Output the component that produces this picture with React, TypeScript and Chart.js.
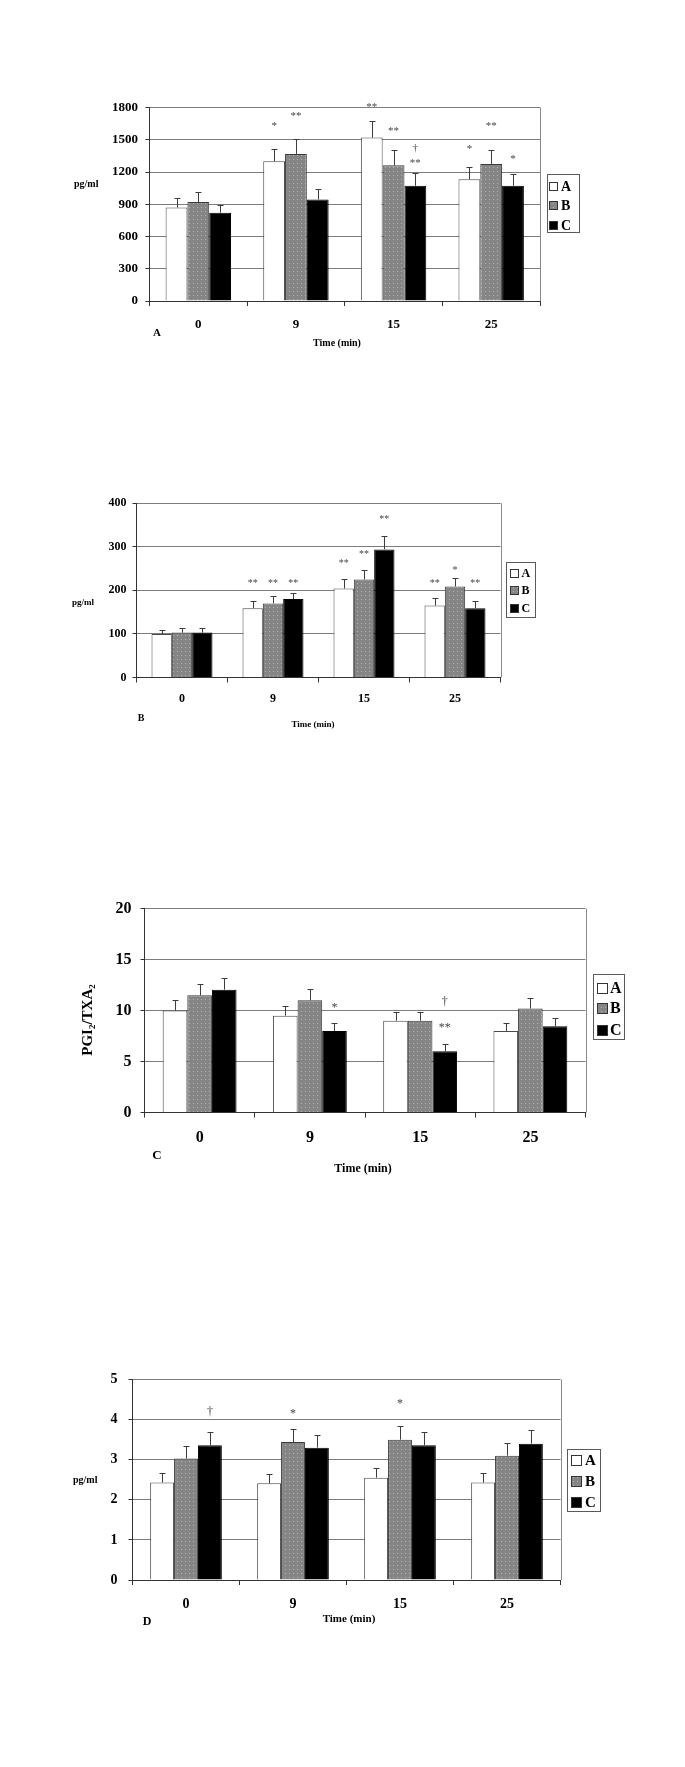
import React, { useEffect, useRef } from 'react';
import { Chart, registerables } from 'chart.js';

Chart.register(...registerables);

// ---------- shared ----------
const categories = ['0', '9', '15', '25'];
const seriesLabels = ['A', 'B', 'C'];

// ---------- Panel A (pg/ml) ----------
const panelA_A = [870, 1299, 1520, 1132];
const panelA_B = [920, 1368, 1262, 1275];
const panelA_C = [821, 945, 1072, 1072];
const panelA_semA = [84, 119, 156, 115];
const panelA_semB = [93, 143, 143, 130];
const panelA_semC = [68, 93, 116, 106];
// [category index, series index, mark, y value]
const panelA_notes: [number, number, string, number][] = [
  [1, 0, '*', 1650], [1, 1, '**', 1740],
  [2, 0, '**', 1825], [2, 1, '**', 1600], [2, 2, '\u2020', 1420], [2, 2, '**', 1308],
  [3, 0, '*', 1431], [3, 1, '**', 1645], [3, 2, '*', 1339],
];

// ---------- Panel B (pg/ml) ----------
const panelB_A = [100, 159, 204, 165];
const panelB_B = [103, 170, 225, 209];
const panelB_C = [103, 180, 294, 159];
const panelB_semA = [9, 16, 21, 17];
const panelB_semB = [11, 16, 22, 20];
const panelB_semC = [11, 15, 30, 16];
const panelB_notes: [number, number, string, number][] = [
  [1, 0, '**', 221], [1, 1, '**', 221], [1, 2, '**', 221],
  [2, 0, '**', 268], [2, 1, '**', 287], [2, 2, '**', 368],
  [3, 0, '**', 221], [3, 1, '*', 250], [3, 2, '**', 221],
];

// ---------- Panel C (PGI2/TXA2) ----------
const panelC_A = [10.0, 9.5, 9.0, 8.0];
const panelC_B = [11.5, 11.0, 9.0, 10.2];
const panelC_C = [12.05, 8.0, 6.0, 8.45];
const panelC_semA = [1.0, 0.95, 0.9, 0.8];
const panelC_semB = [1.15, 1.07, 0.9, 1.05];
const panelC_semC = [1.15, 0.78, 0.67, 0.82];
const panelC_notes: [number, number, string, number][] = [
  [1, 2, '*', 10.52], [2, 2, '\u2020', 10.84], [2, 2, '**', 8.53],
];

// ---------- Panel D (pg/ml) ----------
const panelD_A = [2.43, 2.41, 2.55, 2.43];
const panelD_B = [3.03, 3.44, 3.5, 3.1];
const panelD_C = [3.36, 3.3, 3.36, 3.4];
const panelD_semA = [0.23, 0.23, 0.25, 0.23];
const panelD_semB = [0.31, 0.33, 0.35, 0.31];
const panelD_semC = [0.34, 0.32, 0.34, 0.34];
const panelD_notes: [number, number, string, number][] = [
  [0, 2, '\u2020', 4.19], [1, 1, '*', 4.21], [2, 1, '*', 4.47],
];

const FAM = "'Liberation Serif', 'Times New Roman', serif";
const PAGE_W = 685;

interface PanelCfg {
  top: number;
  height: number;
  area: { l: number; r: number; t: number; b: number };
  yMax: number;
  yStep: number;
  yTickSize: number;
  yTickRight: number;
  xTickSize: number;
  xLabelY: number;
  data: number[][];
  sem: number[][];
  notes: [number, number, string, number][];
  noteSize: number;
  yTitle: { x: number; y: number; size: number; rotated?: boolean };
  letter: { text: string; x: number; y: number; size: number };
  xTitle: { x: number; y: number; size: number };
  legend: { l: number; r: number; t: number; b: number; rows: number[]; swX: number; sw: number; textX: number; size: number };
}

const panels: PanelCfg[] = [
  {
    top: 90, height: 270,
    area: { l: 149.5, r: 540, t: 107.5, b: 301 },
    yMax: 1800, yStep: 300, yTickSize: 13, yTickRight: 138,
    xTickSize: 13, xLabelY: 325,
    data: [panelA_A, panelA_B, panelA_C],
    sem: [panelA_semA, panelA_semB, panelA_semC],
    notes: panelA_notes, noteSize: 11,
    yTitle: { x: 74, y: 184, size: 10 },
    letter: { text: 'A', x: 157, y: 333, size: 11 },
    xTitle: { x: 337, y: 343, size: 10 },
    legend: { l: 546.5, r: 578, t: 174, b: 232, rows: [186, 205, 225], swX: 549, sw: 9, textX: 561, size: 14 },
  },
  {
    top: 490, height: 250,
    area: { l: 136.5, r: 500.5, t: 500.5, b: 677.5 },
    yMax: 400, yStep: 100, yTickSize: 12, yTickRight: 126.5,
    xTickSize: 12, xLabelY: 699,
    data: [panelB_A, panelB_B, panelB_C],
    sem: [panelB_semA, panelB_semB, panelB_semC],
    notes: panelB_notes, noteSize: 10,
    yTitle: { x: 72, y: 603, size: 9 },
    letter: { text: 'B', x: 141, y: 718, size: 10 },
    xTitle: { x: 313, y: 725, size: 9 },
    legend: { l: 506, r: 535, t: 561.5, b: 616.5, rows: [573, 590, 608], swX: 510, sw: 9, textX: 521.5, size: 12 },
  },
  {
    top: 890, height: 300,
    area: { l: 144.5, r: 585.5, t: 901.5, b: 1112.5 },
    yMax: 20, yStep: 5, yTickSize: 16, yTickRight: 131.5,
    xTickSize: 16, xLabelY: 1138,
    data: [panelC_A, panelC_B, panelC_C],
    sem: [panelC_semA, panelC_semB, panelC_semC],
    notes: panelC_notes, noteSize: 12,
    yTitle: { x: 88, y: 1020, size: 15, rotated: true },
    letter: { text: 'C', x: 157, y: 1156, size: 13 },
    xTitle: { x: 363, y: 1169, size: 12 },
    legend: { l: 592.5, r: 623, t: 974, b: 1039, rows: [988, 1008, 1030], swX: 597, sw: 11, textX: 610, size: 16 },
  },
  {
    top: 1360, height: 280,
    area: { l: 132.5, r: 560.5, t: 1379.5, b: 1580 },
    yMax: 5, yStep: 1, yTickSize: 14, yTickRight: 117.5,
    xTickSize: 14, xLabelY: 1604,
    data: [panelD_A, panelD_B, panelD_C],
    sem: [panelD_semA, panelD_semB, panelD_semC],
    notes: panelD_notes, noteSize: 12,
    yTitle: { x: 73, y: 1480, size: 10 },
    letter: { text: 'D', x: 147, y: 1622, size: 12 },
    xTitle: { x: 349, y: 1619, size: 11 },
    legend: { l: 567, r: 600, t: 1448.5, b: 1510.5, rows: [1460, 1481.5, 1502.5], swX: 571, sw: 11, textX: 585, size: 15 },
  },
];

function makeDotPattern(ctx: CanvasRenderingContext2D): CanvasPattern | string {
  const c = document.createElement('canvas');
  c.width = 4;
  c.height = 4;
  const g = c.getContext('2d');
  if (!g) return '#868686';
  g.fillStyle = '#858585';
  g.fillRect(0, 0, 4, 4);
  g.fillStyle = '#b4b4b4';
  g.fillRect(1, 1, 1, 1);
  return ctx.createPattern(c, 'repeat') || '#868686';
}

const Panel: React.FC<{ cfg: PanelCfg }> = ({ cfg }) => {
  const ref = useRef<HTMLCanvasElement>(null);
  useEffect(() => {
    const canvas = ref.current;
    if (!canvas) return;
    const ctx0 = canvas.getContext('2d');
    if (!ctx0) return;
    const pattern = makeDotPattern(ctx0);
    const fills: any[] = ['#ffffff', pattern, '#000000'];
    const borders = ['#4a4a4a', '#3a3a3a', '#000000'];
    const top = cfg.top;
    const tickLenY = 4;
    const tickLenX = 5;

    const overlay = {
      id: 'overlay',
      afterDatasetsDraw(chart: any) {
        const ctx: CanvasRenderingContext2D = chart.ctx;
        const ys = chart.scales.y;
        ctx.save();
        ctx.strokeStyle = '#3c3c3c';
        ctx.lineWidth = 1;
        cfg.data.forEach((series, ds) => {
          const meta = chart.getDatasetMeta(ds);
          series.forEach((v, i) => {
            const el = meta.data[i];
            const x = Math.round(el.x) + 0.5;
            const y0 = ys.getPixelForValue(v);
            const y1 = Math.round(ys.getPixelForValue(v + cfg.sem[ds][i])) + 0.5;
            ctx.beginPath();
            ctx.moveTo(x, y0);
            ctx.lineTo(x, y1);
            ctx.moveTo(x - 3, y1);
            ctx.lineTo(x + 3, y1);
            ctx.stroke();
          });
        });
        ctx.restore();
      },
      afterDraw(chart: any) {
        const ctx: CanvasRenderingContext2D = chart.ctx;
        const ys = chart.scales.y;
        const area = chart.chartArea;
        ctx.save();
        // right frame line
        ctx.strokeStyle = '#8a8a8a';
        ctx.lineWidth = 1;
        ctx.beginPath();
        ctx.moveTo(Math.round(area.right) + 0.5, area.top);
        ctx.lineTo(Math.round(area.right) + 0.5, area.bottom);
        ctx.stroke();

        // significance marks
        ctx.fillStyle = '#444';
        ctx.textAlign = 'center';
        ctx.textBaseline = 'alphabetic';
        ctx.font = `${cfg.noteSize}px ${FAM}`;
        cfg.notes.forEach(([cat, ds, txt, val]) => {
          const el = chart.getDatasetMeta(ds).data[cat];
          const py = ys.getPixelForValue(val);
          const off = txt.indexOf('*') >= 0 ? 0.48 : 0.27;
          ctx.fillText(txt, el.x, py + off * cfg.noteSize);
        });

        // legend
        const lg = cfg.legend;
        ctx.strokeStyle = '#5a5a5a';
        ctx.lineWidth = 1;
        ctx.strokeRect(Math.round(lg.l) + 0.5, Math.round(lg.t - top) + 0.5, Math.round(lg.r - lg.l), Math.round(lg.b - lg.t));
        lg.rows.forEach((ry, i) => {
          const y = Math.round(ry - top - lg.sw / 2);
          ctx.fillStyle = fills[i];
          ctx.fillRect(lg.swX, y, lg.sw, lg.sw);
          ctx.strokeStyle = '#333';
          ctx.strokeRect(lg.swX + 0.5, y + 0.5, lg.sw - 1, lg.sw - 1);
          ctx.fillStyle = '#000';
          ctx.font = `bold ${lg.size}px ${FAM}`;
          ctx.textAlign = 'left';
          ctx.textBaseline = 'middle';
          ctx.fillText(seriesLabels[i], lg.textX, ry - top + 1);
        });

        // y title
        ctx.fillStyle = '#000';
        const yt = cfg.yTitle;
        if (yt.rotated) {
          const big = `bold ${yt.size}px ${FAM}`;
          const small = `bold ${Math.round(yt.size * 0.62)}px ${FAM}`;
          const parts: [string, boolean][] = [['PGI', false], ['2', true], ['/TXA', false], ['2', true]];
          let total = 0;
          parts.forEach(([t, sub]) => {
            ctx.font = sub ? small : big;
            total += ctx.measureText(t).width;
          });
          ctx.save();
          ctx.translate(yt.x, yt.y - top);
          ctx.rotate(-Math.PI / 2);
          ctx.textAlign = 'left';
          ctx.textBaseline = 'middle';
          let cx = -total / 2;
          parts.forEach(([t, sub]) => {
            ctx.font = sub ? small : big;
            ctx.fillText(t, cx, sub ? yt.size * 0.3 : 0);
            cx += ctx.measureText(t).width;
          });
          ctx.restore();
        } else {
          ctx.font = `bold ${yt.size}px ${FAM}`;
          ctx.textAlign = 'left';
          ctx.textBaseline = 'middle';
          ctx.fillText('pg/ml', yt.x, yt.y - top);
        }

        // panel letter
        const lt = cfg.letter;
        ctx.font = `bold ${lt.size}px ${FAM}`;
        ctx.textAlign = 'center';
        ctx.textBaseline = 'middle';
        ctx.fillText(lt.text, lt.x, lt.y - top);

        // x title
        const xt = cfg.xTitle;
        ctx.font = `bold ${xt.size}px ${FAM}`;
        ctx.fillText('Time (min)', xt.x, xt.y - top);
        ctx.restore();
      },
    };

    const xPad = cfg.xLabelY - cfg.area.b - tickLenX - 0.6 * cfg.xTickSize;
    const yPad = cfg.area.l - cfg.yTickRight - tickLenY;

    const chart = new Chart(canvas, {
      type: 'bar',
      data: {
        labels: categories,
        datasets: cfg.data.map((d, i) => ({
          label: seriesLabels[i],
          data: d,
          backgroundColor: fills[i],
          borderColor: borders[i],
          borderWidth: 1,
          barPercentage: 1,
          categoryPercentage: 0.67,
        })),
      },
      options: {
        responsive: false,
        animation: false,
        events: [],
        layout: {
          padding: { left: 0, right: PAGE_W - cfg.area.r, top: cfg.area.t - top, bottom: 0 },
        },
        plugins: {
          legend: { display: false },
          tooltip: { enabled: false },
        },
        scales: {
          x: {
            grid: {
              display: true,
              offset: true,
              drawOnChartArea: false,
              drawTicks: true,
              tickLength: tickLenX,
              color: '#333',
            },
            border: { display: true, color: '#333', width: 1 },
            ticks: {
              color: '#000',
              font: { family: FAM, size: cfg.xTickSize, weight: 'bold', lineHeight: 1.2 },
              padding: xPad,
              autoSkip: false,
              maxRotation: 0,
            },
            afterFit: (s: any) => {
              s.height = cfg.height - (cfg.area.b - top);
            },
          },
          y: {
            min: 0,
            max: cfg.yMax,
            grid: {
              color: '#7c7c7c',
              lineWidth: 1,
              drawTicks: true,
              tickLength: tickLenY,
              tickColor: '#333',
            },
            border: { display: true, color: '#333', width: 1 },
            ticks: {
              stepSize: cfg.yStep,
              color: '#000',
              font: { family: FAM, size: cfg.yTickSize, weight: 'bold', lineHeight: 1.2 },
              padding: yPad,
              callback: (v: any) => String(v),
            },
            afterFit: (s: any) => {
              s.width = cfg.area.l;
            },
          },
        },
      } as any,
      plugins: [overlay],
    });
    return () => chart.destroy();
  }, [cfg]);

  return (
    <canvas
      ref={ref}
      width={PAGE_W}
      height={cfg.height}
      style={{ position: 'absolute', left: 0, top: cfg.top, width: PAGE_W, height: cfg.height, display: 'block' }}
    />
  );
};

export default function App() {
  return (
    <div style={{ position: 'absolute', left: 0, top: 0, width: PAGE_W, height: 1767, background: '#ffffff' }}>
      {panels.map((p, i) => (
        <Panel key={i} cfg={p} />
      ))}
    </div>
  );
}
